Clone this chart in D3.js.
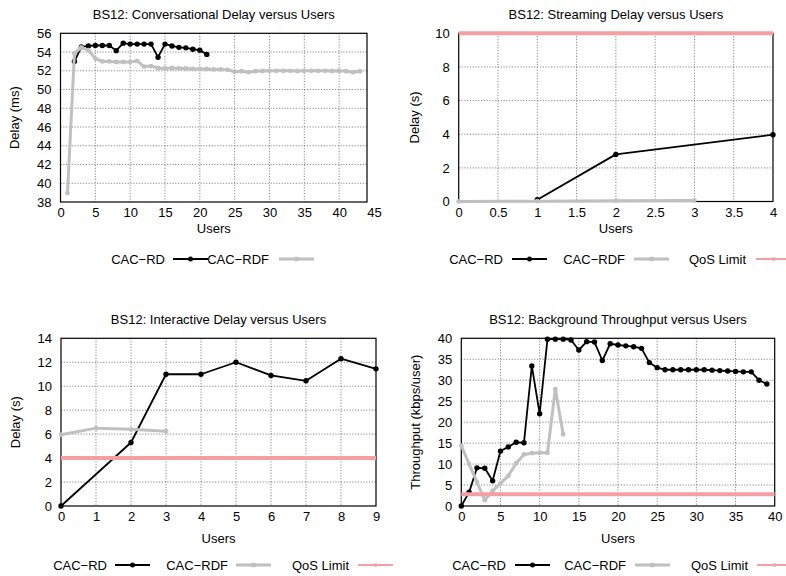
<!DOCTYPE html>
<html>
<head>
<meta charset="utf-8">
<script src="https://cdn.jsdelivr.net/npm/d3@7"></script>
<style>
  html, body { margin: 0; padding: 0; background: #fff; }
  svg text { font-family: "Liberation Sans", Arial, Helvetica, sans-serif; fill: #000; }
</style>
</head>
<body>
<svg id="chart" width="786" height="576"></svg>
<script>
// ---------- DATA ----------
const seriesNames = ["CAC\u2212RD", "CAC\u2212RDF", "QoS Limit"];

// Panel 1: Conversational delay (ms)
const convUsersRD = [2,3,4,5,6,7,8,9,10,11,12,13,14,15,16,17,18,19,20,21];
const convDelayRD = [53.0,54.55,54.65,54.7,54.7,54.7,54.15,54.95,54.85,54.85,54.85,54.85,53.45,54.85,54.65,54.5,54.45,54.3,54.2,53.75];
const convUsersRDF = [1,2,3,4,5,6,7,8,9,10,11,12,13,14,15,16,17,18,19,20,21,22,23,24,25,26,27,28,29,30,31,32,33,34,35,36,37,38,39,40,41,42,43];
const convDelayRDF = [38.95,53.85,54.5,54.2,53.3,53.0,53.0,52.95,52.95,52.95,53.05,52.45,52.5,52.3,52.25,52.3,52.25,52.25,52.2,52.2,52.2,52.15,52.15,52.1,51.9,51.95,51.85,51.95,51.98,52.0,52.0,52.0,52.0,51.98,52.0,52.0,52.0,52.0,51.98,52.0,51.95,51.85,51.95];
const convXTicks = [0,5,10,15,20,25,30,35,40,45];
const convYTicks = [38,40,42,44,46,48,50,52,54,56];

// Panel 2: Streaming delay (s)
const strUsersRD = [1,2,4];
const strDelayRD = [0.1,2.8,3.97];
const strUsersRDF = [0,1,2,3];
const strDelayRDF = [0.0,0.02,0.05,0.06];
const strQoS = 10;
const strXTicks = [0,0.5,1,1.5,2,2.5,3,3.5,4];
const strYTicks = [0,2,4,6,8,10];

// Panel 3: Interactive delay (s)
const intUsersRD = [0,2,3,4,5,6,7,8,9];
const intDelayRD = [0,5.3,11.0,11.0,12.0,10.9,10.45,12.3,11.45];
const intUsersRDF = [0,1,2,3];
const intDelayRDF = [5.95,6.5,6.4,6.25];
const intQoS = 4;
const intXTicks = [0,1,2,3,4,5,6,7,8,9];
const intYTicks = [0,2,4,6,8,10,12,14];

// Panel 4: Background throughput (kbps/user)
const bgUsersRD = [0,1,2,3,4,5,6,7,8,9,10,11,12,13,14,15,16,17,18,19,20,21,22,23,24,25,26,27,28,29,30,31,32,33,34,35,36,37,38,39];
const bgThrRD = [0,3.3,9.1,9.0,6.0,13.1,14.1,15.2,15.1,33.4,22.0,39.8,39.8,39.8,39.6,37.2,39.2,39.1,34.7,38.7,38.4,38.2,38.0,37.6,34.2,33.0,32.5,32.5,32.5,32.5,32.5,32.5,32.4,32.3,32.2,32.1,32.0,32.0,30.0,29.1];
const bgUsersRDF = [0,1,2,3,4,5,6,7,8,9,10,11,12,13];
const bgThrRDF = [14.4,10.0,5.7,1.4,3.6,5.4,7.2,10.2,12.3,12.6,12.7,12.7,27.9,17.1];
const bgQoS = 2.8;
const bgXTicks = [0,5,10,15,20,25,30,35,40];
const bgYTicks = [0,5,10,15,20,25,30,35,40];

// ---------- STYLE / LAYOUT ----------
const COL_RD = "#000000", COL_RDF = "#c0c0c0", COL_QOS = "#f4a0a3";
const FONT = 13;

const zip = (xs, ys) => xs.map((x, i) => ({x, y: ys[i]}));

const panels = [
  { title: "BS12: Conversational Delay versus Users", ylabel: "Delay (ms)",
    L: 60.5, R: 367, T: 33.3, B: 202, xDom: [0,44], yDom: [38,56],
    xTicks: convXTicks, yTicks: convYTicks,
    rd: zip(convUsersRD, convDelayRD), rdf: zip(convUsersRDF, convDelayRDF), qos: null,
    titleY: 18.5, xlabY: 233, ylabX: 14,
    legY: 263.5, legTextEnd: [165, 269], legSample: [173, 279] },
  { title: "BS12: Streaming Delay versus Users", ylabel: "Delay (s)",
    L: 458.7, R: 773, T: 33.3, B: 201.5, xDom: [0,4], yDom: [0,10],
    xTicks: strXTicks, yTicks: strYTicks,
    rd: zip(strUsersRD, strDelayRD), rdf: zip(strUsersRDF, strDelayRDF), qos: strQoS,
    titleY: 18.5, xlabY: 233, ylabX: 414.5,
    legY: 263.5, legTextEnd: [503, 625, 746], legSample: [512, 634, 756] },
  { title: "BS12: Interactive Delay versus Users", ylabel: "Delay (s)",
    L: 61, R: 376, T: 338.3, B: 506, xDom: [0,9], yDom: [0,14],
    xTicks: intXTicks, yTicks: intYTicks,
    rd: zip(intUsersRD, intDelayRD), rdf: zip(intUsersRDF, intDelayRDF), qos: intQoS,
    titleY: 323.5, xlabY: 543, ylabX: 15,
    legY: 569.5, legTextEnd: [107, 228, 349], legSample: [115, 236, 358] },
  { title: "BS12: Background Throughput versus Users", ylabel: "Throughput (kbps/user)",
    L: 461.3, R: 774.7, T: 338.3, B: 506, xDom: [0,40], yDom: [0,40],
    xTicks: bgXTicks, yTicks: bgYTicks,
    rd: zip(bgUsersRD, bgThrRD), rdf: zip(bgUsersRDF, bgThrRDF), qos: bgQoS,
    titleY: 323.5, xlabY: 543, ylabX: 415.5,
    legY: 569.5, legTextEnd: [506, 626, 748], legSample: [515, 635, 757] }
];

const svg = d3.select("#chart");

panels.forEach(p => {
  const x = d3.scaleLinear().domain(p.xDom).range([p.L, p.R]);
  const y = d3.scaleLinear().domain(p.yDom).range([p.B, p.T]);
  const g = svg.append("g");

  // grid
  const gridX = p.xTicks.filter(t => t > p.xDom[0] && t < p.xDom[1]);
  const gridY = p.yTicks.filter(t => t > p.yDom[0] && t < p.yDom[1]);
  g.selectAll(".gx").data(gridX).join("line")
    .attr("x1", d => x(d)).attr("x2", d => x(d)).attr("y1", p.T).attr("y2", p.B)
    .attr("stroke", "#666").attr("stroke-width", 0.8).attr("stroke-dasharray", "1.2,1.6");
  g.selectAll(".gy").data(gridY).join("line")
    .attr("y1", d => y(d)).attr("y2", d => y(d)).attr("x1", p.L).attr("x2", p.R)
    .attr("stroke", "#666").attr("stroke-width", 0.8).attr("stroke-dasharray", "1.2,1.6");

  // axes (labels only)
  const xa = g.append("g").attr("transform", `translate(0,${p.B})`)
    .call(d3.axisBottom(x).tickValues(p.xTicks).tickSize(0).tickPadding(6).tickFormat(d3.format("~g")));
  const ya = g.append("g").attr("transform", `translate(${p.L},0)`)
    .call(d3.axisLeft(y).tickValues(p.yTicks).tickSize(0).tickPadding(9).tickFormat(d3.format("~g")));
  [xa, ya].forEach(a => {
    a.select(".domain").remove();
    a.selectAll("text").attr("font-size", FONT).attr("font-family", "Liberation Sans, Arial, sans-serif").attr("fill", "#000");
  });

  // border
  g.append("rect").attr("x", p.L).attr("y", p.T).attr("width", p.R - p.L).attr("height", p.B - p.T)
    .attr("fill", "none").attr("stroke", "#000").attr("stroke-width", 1.2);

  const line = d3.line().x(d => x(d.x)).y(d => y(d.y));

  // CAC-RD
  g.append("path").datum(p.rd).attr("d", line).attr("fill", "none")
    .attr("stroke", COL_RD).attr("stroke-width", 1.8).attr("stroke-linejoin", "round");
  g.selectAll(".prd").data(p.rd).join("circle")
    .attr("cx", d => x(d.x)).attr("cy", d => y(d.y)).attr("r", 2.7).attr("fill", COL_RD);

  // CAC-RDF
  g.append("path").datum(p.rdf).attr("d", line).attr("fill", "none")
    .attr("stroke", COL_RDF).attr("stroke-width", 3).attr("stroke-linejoin", "round");
  g.selectAll(".prdf").data(p.rdf).join("circle")
    .attr("cx", d => x(d.x)).attr("cy", d => y(d.y)).attr("r", 2.4).attr("fill", COL_RDF);

  // QoS limit
  if (p.qos !== null) {
    g.append("line").attr("x1", x(p.xDom[0])).attr("x2", x(p.xDom[1]))
      .attr("y1", y(p.qos)).attr("y2", y(p.qos))
      .attr("stroke", COL_QOS).attr("stroke-width", 4);
  }

  // title & axis labels
  g.append("text").attr("x", (p.L + p.R) / 2).attr("y", p.titleY).attr("text-anchor", "middle")
    .attr("font-size", FONT).text(p.title);
  g.append("text").attr("x", (p.L + p.R) / 2).attr("y", p.xlabY).attr("text-anchor", "middle")
    .attr("font-size", FONT).text("Users");
  g.append("text").attr("transform", `translate(${p.ylabX},${(p.T + p.B) / 2}) rotate(-90)`)
    .attr("text-anchor", "middle").attr("dominant-baseline", "central")
    .attr("font-size", FONT).text(p.ylabel);

  // legend
  const legStyles = [
    {col: COL_RD, w: 1.8, r: 2.5, sq: false},
    {col: COL_RDF, w: 3, r: 2.2, sq: true},
    {col: COL_QOS, w: 2, r: 1.6, sq: true}
  ];
  p.legTextEnd.forEach((te, i) => {
    const st = legStyles[i];
    const cy = p.legY - 4.5;
    g.append("text").attr("x", te).attr("y", p.legY).attr("text-anchor", "end")
      .attr("font-size", FONT).text(seriesNames[i]);
    const sx = p.legSample[i];
    g.append("line").attr("x1", sx).attr("x2", sx + 35).attr("y1", cy).attr("y2", cy)
      .attr("stroke", st.col).attr("stroke-width", st.w);
    if (st.sq) {
      g.append("rect").attr("x", sx + 17.5 - st.r).attr("y", cy - st.r)
        .attr("width", st.r * 2).attr("height", st.r * 2).attr("fill", st.col);
    } else {
      g.append("circle").attr("cx", sx + 17.5).attr("cy", cy).attr("r", st.r).attr("fill", st.col);
    }
  });
});
</script>
</body>
</html>
